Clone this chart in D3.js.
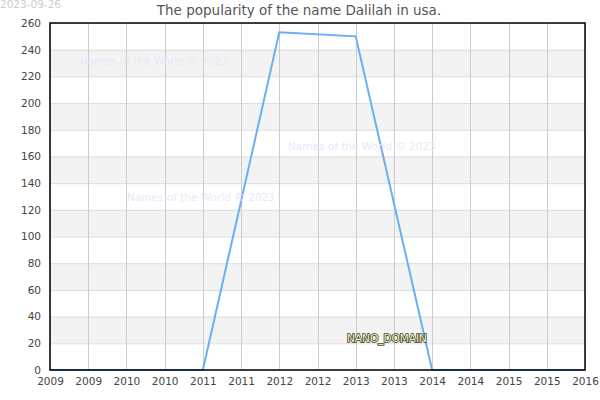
<!DOCTYPE html>
<html>
<head>
<meta charset="utf-8">
<script src="https://cdn.jsdelivr.net/npm/d3@7"></script>
<style>
  body { margin: 0; background: #fff; }
  svg { font-family: "DejaVu Sans", sans-serif; }
</style>
</head>
<body>
<div id="chart"></div>
<script>
// chart data
const years = [2009, 2010, 2011, 2012, 2013, 2014, 2015, 2016];
const counts = [0, 0, 0, 253, 250, 0, 0, 0];
const yTicks = [0, 20, 40, 60, 80, 100, 120, 140, 160, 180, 200, 220, 240, 260];
const xTicks = [2009, 2009.5, 2010, 2010.5, 2011, 2011.5, 2012, 2012.5, 2013, 2013.5, 2014, 2014.5, 2015, 2015.5, 2016];
const watermarks = [[80, 65], [127, 201], [288, 150]];

const width = 600;
const height = 400;
const margin = {top: 23, right: 15, bottom: 30, left: 50};
const innerW = width - margin.left - margin.right;
const innerH = height - margin.top - margin.bottom;

const svg = d3.select('#chart').append('svg')
  .attr('width', width)
  .attr('height', height);

const x = d3.scaleLinear().domain([2009, 2016]).range([0, innerW]);
const y = d3.scaleLinear().domain([0, 260]).range([innerH, 0]);

const g = svg.append('g')
  .attr('transform', 'translate(' + margin.left + ',' + margin.top + ')');

// alternating bands
const bands = yTicks.slice(0, -1).filter((d, i) => i % 2 === 1);
g.selectAll('.band').data(bands).enter().append('rect')
  .attr('x', 0)
  .attr('width', innerW)
  .attr('y', d => y(d + 20))
  .attr('height', d => y(d) - y(d + 20))
  .attr('fill', '#f3f3f3');

// horizontal grid
g.selectAll('.hgrid').data(yTicks).enter().append('line')
  .attr('x1', 0).attr('x2', innerW)
  .attr('y1', d => y(d) + 0.5).attr('y2', d => y(d) + 0.5)
  .attr('stroke', '#dddddd');

// vertical grid
g.selectAll('.vgrid').data(xTicks).enter().append('line')
  .attr('x1', d => Math.round(x(d)) + 0.5).attr('x2', d => Math.round(x(d)) + 0.5)
  .attr('y1', 0).attr('y2', innerH)
  .attr('stroke', '#cccccc');

// watermarks
svg.selectAll('.wm').data(watermarks).enter().append('text')
  .attr('x', d => d[0])
  .attr('y', d => d[1])
  .attr('font-size', 10.5)
  .attr('fill', '#e8e8f8')
  .text('Names of the World © 2023');

// line
const line = d3.line()
  .x((d, i) => x(years[i]))
  .y(d => y(d));

g.append('path')
  .datum(counts)
  .attr('fill', 'none')
  .attr('stroke', '#6aaef5')
  .attr('stroke-width', 2)
  .attr('d', line);

// frame
g.append('rect')
  .attr('x', 0).attr('y', 0)
  .attr('width', innerW).attr('height', innerH)
  .attr('fill', 'none')
  .attr('stroke', '#000')
  .attr('stroke-width', 1.5);

// axes
const xAxis = d3.axisBottom(x)
  .tickValues(xTicks)
  .tickSize(0)
  .tickPadding(8)
  .tickFormat(d => String(Math.floor(d)));

g.append('g')
  .attr('transform', 'translate(0,' + innerH + ')')
  .call(xAxis)
  .call(s => s.select('.domain').remove())
  .selectAll('text')
  .attr('font-size', 10.5)
  .attr('font-family', '"DejaVu Sans", sans-serif')
  .attr('fill', '#444');

const yAxis = d3.axisLeft(y)
  .tickValues(yTicks)
  .tickSize(0)
  .tickPadding(9);

g.append('g')
  .call(yAxis)
  .call(s => s.select('.domain').remove())
  .selectAll('text')
  .attr('font-size', 10.5)
  .attr('font-family', '"DejaVu Sans", sans-serif')
  .attr('fill', '#444');

// title and date
svg.append('text')
  .attr('x', 299)
  .attr('y', 15)
  .attr('text-anchor', 'middle')
  .attr('font-size', 13.5)
  .attr('fill', '#555')
  .text('The popularity of the name Dalilah in usa.');

svg.append('text')
  .attr('x', 0)
  .attr('y', 8)
  .attr('font-size', 10.5)
  .attr('fill', '#ccc')
  .text('2023-09-26');

// domain label
svg.append('text')
  .attr('x', 347)
  .attr('y', 342)
  .attr('font-size', 10.5)
  .attr('fill', '#f4f4d0')
  .attr('stroke', '#444422')
  .attr('stroke-width', 1.6)
  .attr('paint-order', 'stroke')
  .text('NANO_DOMAIN');
</script>
</body>
</html>
